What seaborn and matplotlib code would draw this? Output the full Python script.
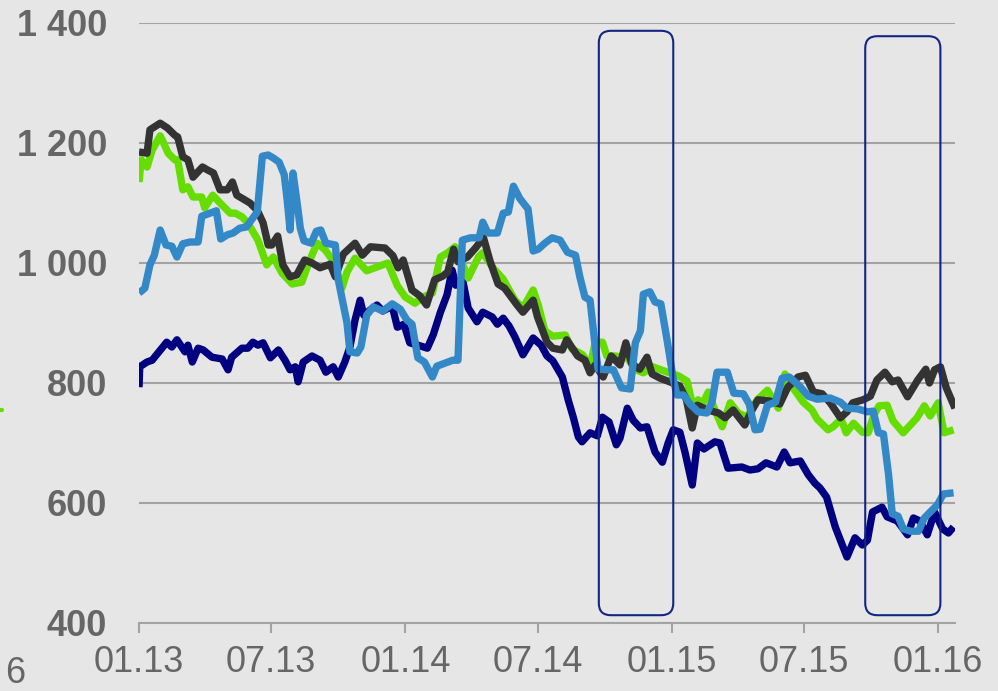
import numpy as np
import pandas as pd
import matplotlib
matplotlib.use("Agg")
import matplotlib.pyplot as plt
import matplotlib.dates as mdates
import seaborn as sns
from matplotlib.patches import FancyBboxPatch
from matplotlib.transforms import IdentityTransform
from matplotlib.lines import Line2D

# ---------------- data (days since 2013-01-01, values) ----------------
start_date = "2013-01-01"

black_days = [0,11,15,29,39,49,53,60,67,74,87,94,102,111,121,128,134,141,152,162,
              170,177,182,190,197,207,216,227,237,248,262,269,280,296,306,317,337,348,355,362,
              374,385,394,405,416,423,431,437,450,461,472,481,492,501,518,526,540,546,559,567,
              580,586,601,611,618,625,636,647,659,667,675,686,696,703,714,727,741,750,758,765,
              779,794,803,814,830,840,848,864,878,889,903,913,924,936,947,961,970,978,992,1002,
              1011,1022,1032,1040,1053,1067,1078,1083,1090,1098,1106,1118]
black_vals = [1185,1183,1222,1233,1225,1213,1210,1177,1172,1143,1160,1155,1150,1122,1122,1135,1113,1108,1100,1088,
              1067,1030,1030,1045,997,977,980,1005,1000,992,998,977,1015,1033,1013,1027,1025,1012,992,1005,
              955,945,930,972,978,985,1023,1002,1010,1025,1042,1003,965,958,930,918,938,910,868,858,
              855,872,845,838,817,830,810,845,830,867,832,823,843,815,808,802,795,772,725,763,
              755,750,742,755,730,755,772,770,765,793,810,813,785,782,767,742,752,767,772,778,
              805,818,802,805,777,805,823,800,822,827,792,758]

green_days = [0,3,11,18,29,33,40,49,53,60,67,74,86,90,101,111,125,132,141,149,
              163,175,184,196,210,223,233,244,255,265,278,285,296,312,323,341,354,365,378,389,
              402,413,423,433,440,451,465,471,485,499,515,526,540,547,556,567,584,593,608,618,
              625,635,641,652,669,681,691,704,724,739,751,759,766,773,780,789,799,810,821,833,
              847,861,876,885,896,910,922,929,944,951,962,969,979,991,999,1007,1014,1025,1033,1047,
              1066,1076,1084,1095,1103,1116]
green_vals = [1135,1172,1160,1188,1212,1202,1183,1172,1172,1122,1127,1110,1110,1092,1113,1100,1083,1083,1077,1067,
              1038,997,1010,983,965,968,1002,1033,1022,1005,958,985,1008,987,992,1000,962,943,933,943,
              950,1010,1017,1027,1008,975,1010,1017,992,973,938,925,955,930,887,878,880,857,847,827,
              868,868,845,845,842,822,817,827,818,812,803,760,772,767,785,755,727,767,750,743,
              772,788,758,815,792,768,755,740,722,727,740,717,733,718,717,747,762,763,737,717,
              742,762,745,767,717,722]

navy_days = [0,1,11,18,26,38,45,52,63,67,73,81,88,100,114,122,127,141,149,156,
             163,170,180,191,200,207,214,218,225,237,248,256,266,273,282,289,296,303,308,317,
             326,334,347,354,363,371,385,395,403,413,422,429,434,444,451,463,471,484,491,499,
             507,515,526,540,551,559,567,580,588,595,602,607,618,628,635,644,654,659,669,677,
             687,696,707,717,725,732,741,748,758,765,774,789,796,807,826,837,848,859,874,884,
             892,906,917,926,933,942,954,970,981,991,998,1005,1018,1025,1039,1053,1061,1070,1080,1090,
             1101,1109,1116]
navy_vals = [793,827,835,838,850,868,860,872,852,863,835,858,855,843,840,822,843,858,858,868,
             863,867,842,855,838,822,827,802,835,845,838,818,827,810,835,860,905,938,913,922,
             930,920,928,893,898,867,862,858,880,918,947,988,963,968,925,902,918,910,898,908,
             895,877,847,875,863,845,837,810,772,743,710,702,717,712,743,735,697,708,758,738,
             725,727,685,668,700,722,718,685,630,700,690,702,700,658,660,655,657,667,660,685,
             667,670,647,633,625,610,560,510,542,530,538,585,593,577,570,547,575,570,547,585,
             557,550,560]

blue_days = [0,8,15,21,29,37,45,52,60,70,81,86,97,106,112,121,129,138,147,156,
             162,169,177,184,192,199,203,207,211,217,221,226,236,243,249,256,269,273,278,285,
             289,299,304,312,321,334,347,358,367,374,382,391,402,408,419,430,437,443,454,466,
             471,478,491,499,506,513,522,533,540,547,556,566,577,587,598,604,611,618,624,629,
             643,650,661,673,680,687,691,700,707,715,724,732,737,746,755,766,778,785,792,806,
             815,828,836,844,851,861,872,881,891,905,917,929,947,961,970,984,998,1006,1013,1020,
             1027,1032,1040,1047,1057,1068,1076,1084,1094,1102,1116]
blue_vals = [950,958,997,1013,1055,1030,1028,1010,1032,1035,1035,1078,1083,1087,1040,1047,1050,1058,1060,1075,
             1085,1178,1180,1175,1168,1147,1105,1055,1150,1097,1058,1037,1033,1053,1055,1033,1030,972,942,900,
             852,850,860,913,927,920,932,923,905,898,842,835,810,828,833,838,838,1038,1042,1042,
             1068,1050,1050,1083,1085,1128,1107,1090,1020,1023,1033,1042,1038,1018,1013,977,943,938,872,823,
             822,822,792,790,867,887,948,952,935,932,868,807,780,780,765,752,750,768,818,818,
             783,782,765,722,723,763,768,808,810,795,778,773,775,768,758,757,752,753,717,715,
             647,582,578,557,553,553,575,585,597,615,617]

x_tick_dates = ["2013-01-01", "2013-07-01", "2014-01-01", "2014-07-01",
                "2015-01-01", "2015-07-01", "2016-01-01"]
x_tick_labels = ["01.13", "07.13", "01.14", "07.14", "01.15", "07.15", "01.16"]
y_ticks = [400, 600, 800, 1000, 1200, 1400]
y_tick_labels = ["400", "600", "800", "1 000", "1 200", "1 400"]

# highlighted periods (rounded boxes)
box_starts = ["2014-09-23", "2015-09-23"]
box_ends = ["2015-01-03", "2016-01-04"]
box_bottoms = [413, 413]
box_tops = [1387, 1378]

# ---------------- style ----------------
BG = "#e6e6e6"
GRID = "#a3a3a3"
TXT = "#666666"
C_BLACK = "#333333"
C_GREEN = "#66dd00"
C_BLUE = "#3388c8"
C_NAVY = "#000080"
C_BOX = "#142585"

sns.set_theme(style="white")
plt.rcParams["font.family"] = ["Liberation Sans", "DejaVu Sans"]

W, H = 998, 691
fig = plt.figure(figsize=(W / 100, H / 100), dpi=100, facecolor=BG)
ax = fig.add_axes([139 / W, 1 - 623 / H, (955 - 139) / W, 600 / H])
ax.set_facecolor(BG)

t0 = pd.Timestamp(start_date)


def make_df(days, vals):
    return pd.DataFrame({"date": t0 + pd.to_timedelta(days, unit="D"), "value": vals})


series = [
    (navy_days, navy_vals, C_NAVY),
    (green_days, green_vals, C_GREEN),
    (black_days, black_vals, C_BLACK),
    (blue_days, blue_vals, C_BLUE),
]
for days, vals, col in series:
    sns.lineplot(data=make_df(days, vals), x="date", y="value", color=col,
                 linewidth=5.3, estimator=None, sort=False, ax=ax,
                 solid_joinstyle="round", solid_capstyle="butt")

ax.set_xlim(t0, t0 + pd.Timedelta(days=1118))
ax.set_ylim(400, 1400)
ax.set_xlabel("")
ax.set_ylabel("")

ax.set_xticks(pd.to_datetime(x_tick_dates))
ax.set_xticklabels(x_tick_labels)
ax.set_yticks(y_ticks)
ax.set_yticklabels(y_tick_labels)

ax.tick_params(axis="x", length=7.2, width=1.5, color=GRID, pad=9,
               labelsize=26, labelcolor=TXT, direction="out", bottom=True)
ax.tick_params(axis="y", length=0, pad=23, labelsize=26, labelcolor=TXT)
for lab in ax.get_yticklabels():
    lab.set_fontweight("bold")

for s in ["left", "right", "top"]:
    ax.spines[s].set_visible(False)
ax.spines["bottom"].set_color(GRID)
ax.spines["bottom"].set_linewidth(1.5)

ax.yaxis.grid(True, color=GRID, linewidth=1.5)
ax.xaxis.grid(False)
ax.set_axisbelow(True)

# rounded highlight boxes
for bs, be, bb, bt in zip(box_starts, box_ends, box_bottoms, box_tops):
    x0, y0 = ax.transData.transform((mdates.date2num(pd.Timestamp(bs)), bb))
    x1, y1 = ax.transData.transform((mdates.date2num(pd.Timestamp(be)), bt))
    patch = FancyBboxPatch((x0, y0), x1 - x0, y1 - y0,
                           boxstyle="round,pad=0,rounding_size=12",
                           transform=IdentityTransform(), fill=False,
                           edgecolor=C_BOX, linewidth=1.5, clip_on=False, zorder=5)
    fig.add_artist(patch)

# cropped remnants at the left edge
fig.text(5 / W, 1 - 683 / H, "6", fontsize=26, color=TXT, ha="left", va="baseline")
fig.add_artist(Line2D([0, 2 / W], [1 - 410 / H, 1 - 410 / H], color=C_GREEN,
                      linewidth=3, transform=fig.transFigure))

fig.savefig("out.png", dpi=100, facecolor=BG)
